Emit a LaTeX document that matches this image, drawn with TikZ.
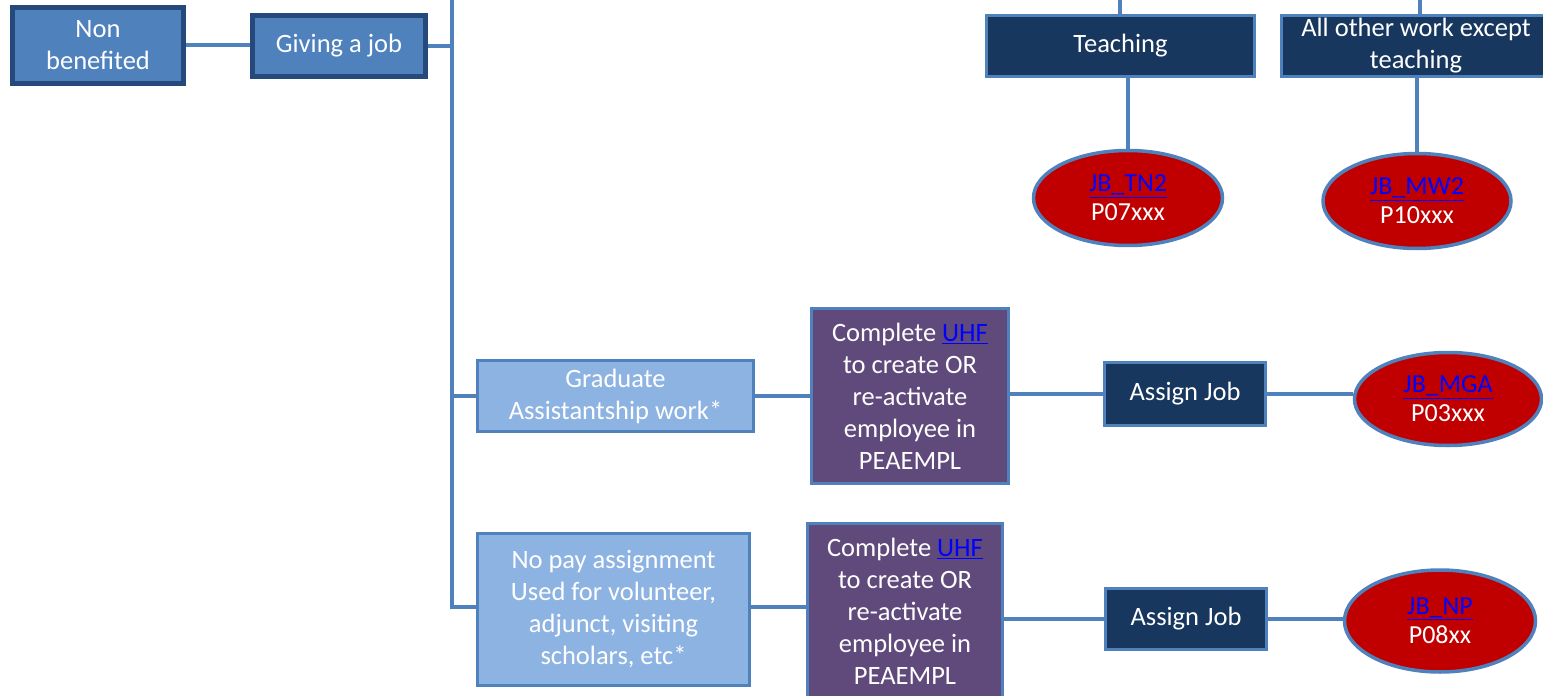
\documentclass[tikz,border=0pt]{standalone}
\usepackage{fontspec}
\setmainfont{Carlito}
\usetikzlibrary{shapes.geometric}
\definecolor{midblue}{HTML}{4F81BD}
\definecolor{darkborder}{HTML}{24497A}
\definecolor{lightblue}{HTML}{8DB3E2}
\definecolor{purplebox}{HTML}{604A7B}
\definecolor{navy}{HTML}{17375E}
\definecolor{redell}{HTML}{C00000}
\definecolor{linkblue}{HTML}{0000FF}
\newcommand{\lnk}[1]{\textcolor{linkblue}{\underline{#1}}}
\tikzset{
  base/.style={rectangle, inner sep=0pt, align=center, text=white,
    font=\fontsize{26.5}{32}\selectfont},
  topbox/.style={base, fill=midblue, draw=darkborder, line width=5pt},
  lightbox/.style={base, fill=lightblue, draw=midblue, line width=3.5pt},
  purbox/.style={base, fill=purplebox, draw=midblue, line width=3.5pt},
  navybox/.style={base, fill=navy, draw=midblue, line width=3.5pt},
  redell/.style={ellipse, inner sep=0pt, align=center, text=white,
    fill=redell, draw=midblue, line width=3.5pt,
    font=\fontsize{26}{29}\selectfont},
  conn/.style={draw=midblue, line width=4pt}
}
\begin{document}
\begin{tikzpicture}[x=1pt,y=-1pt]
\useasboundingbox (0,0) rectangle (1543,696);
\clip (0,0) rectangle (1543,696);
\fill[white] (0,0) rectangle (1543,696);

\node[topbox, minimum width=171pt, minimum height=76pt] (nb) at (98,45) {Non\\benefited};
\node[topbox, minimum width=173pt, minimum height=61pt] (gj) at (339,46) {Giving a job};

\node[navybox, minimum width=268pt, minimum height=61pt] (teach) at (1120.5,46) {Teaching};
\node[navybox, minimum width=269pt, minimum height=61pt] (other) at (1416,46) {All other work except\\teaching};
\node[redell, minimum width=189pt, minimum height=95pt] (tn2) at (1128,198) {\lnk{JB\_TN2}\\P07xxx};
\node[redell, minimum width=188pt, minimum height=95pt] (mw2) at (1417,201) {\lnk{JB\_MW2}\\P10xxx};

\node[lightbox, minimum width=276pt, minimum height=71pt] (grad) at (615.5,396) {Graduate\\Assistantship work*};
\node[purbox, minimum width=197pt, minimum height=175pt] (pur1) at (910,396) {Complete \lnk{UHF}\\to create OR\\re-activate\\employee in\\PEAEMPL};
\node[navybox, minimum width=161pt, minimum height=63pt] (aj1) at (1185,394) {Assign Job};
\node[redell, minimum width=187pt, minimum height=93pt] (mga) at (1448,399) {\lnk{JB\_MGA}\\P03xxx};

\node[lightbox, minimum width=272pt, minimum height=152pt] (np) at (613.5,609.5) {No pay assignment\\Used for volunteer,\\adjunct, visiting\\scholars, etc*};
\node[purbox, minimum width=195pt, minimum height=175pt] (pur2) at (905,611) {Complete \lnk{UHF}\\to create OR\\re-activate\\employee in\\PEAEMPL};
\node[navybox, minimum width=161pt, minimum height=61pt] (aj2) at (1186,619) {Assign Job};
\node[redell, minimum width=191pt, minimum height=102pt] (jbnp) at (1440,621) {\lnk{JB\_NP}\\P08xx};

\coordinate (trtop) at (452,0);
\coordinate (trbot) at (452,607);
\coordinate (teachtop) at (1120,0);
\coordinate (othertop) at (1420,0);

\draw[conn] (nb.east) -- (nb.east -| gj.west);
\draw[conn] (gj.east) -- (gj.east -| trtop);
\draw[conn] (trtop) -- (trbot) -- (np.west |- trbot);
\draw[conn] (grad.west) -- (grad.west -| trtop);
\draw[conn] (grad.east) -- (grad.east -| pur1.west);
\draw[conn] (pur1.east |- aj1.west) -- (aj1.west);
\draw[conn] (aj1.east) -- (aj1.east -| mga.west);
\draw[conn] (np.east |- trbot) -- (pur2.west |- trbot);
\draw[conn] (pur2.east |- aj2.west) -- (aj2.west);
\draw[conn] (aj2.east) -- (aj2.east -| jbnp.west);
\draw[conn] (teachtop) -- (teachtop |- teach.north);
\draw[conn] (othertop) -- (othertop |- other.north);
\draw[conn] (tn2.north |- teach.south) -- (tn2.north);
\draw[conn] (mw2.north |- other.south) -- (mw2.north);
\end{tikzpicture}
\end{document}
